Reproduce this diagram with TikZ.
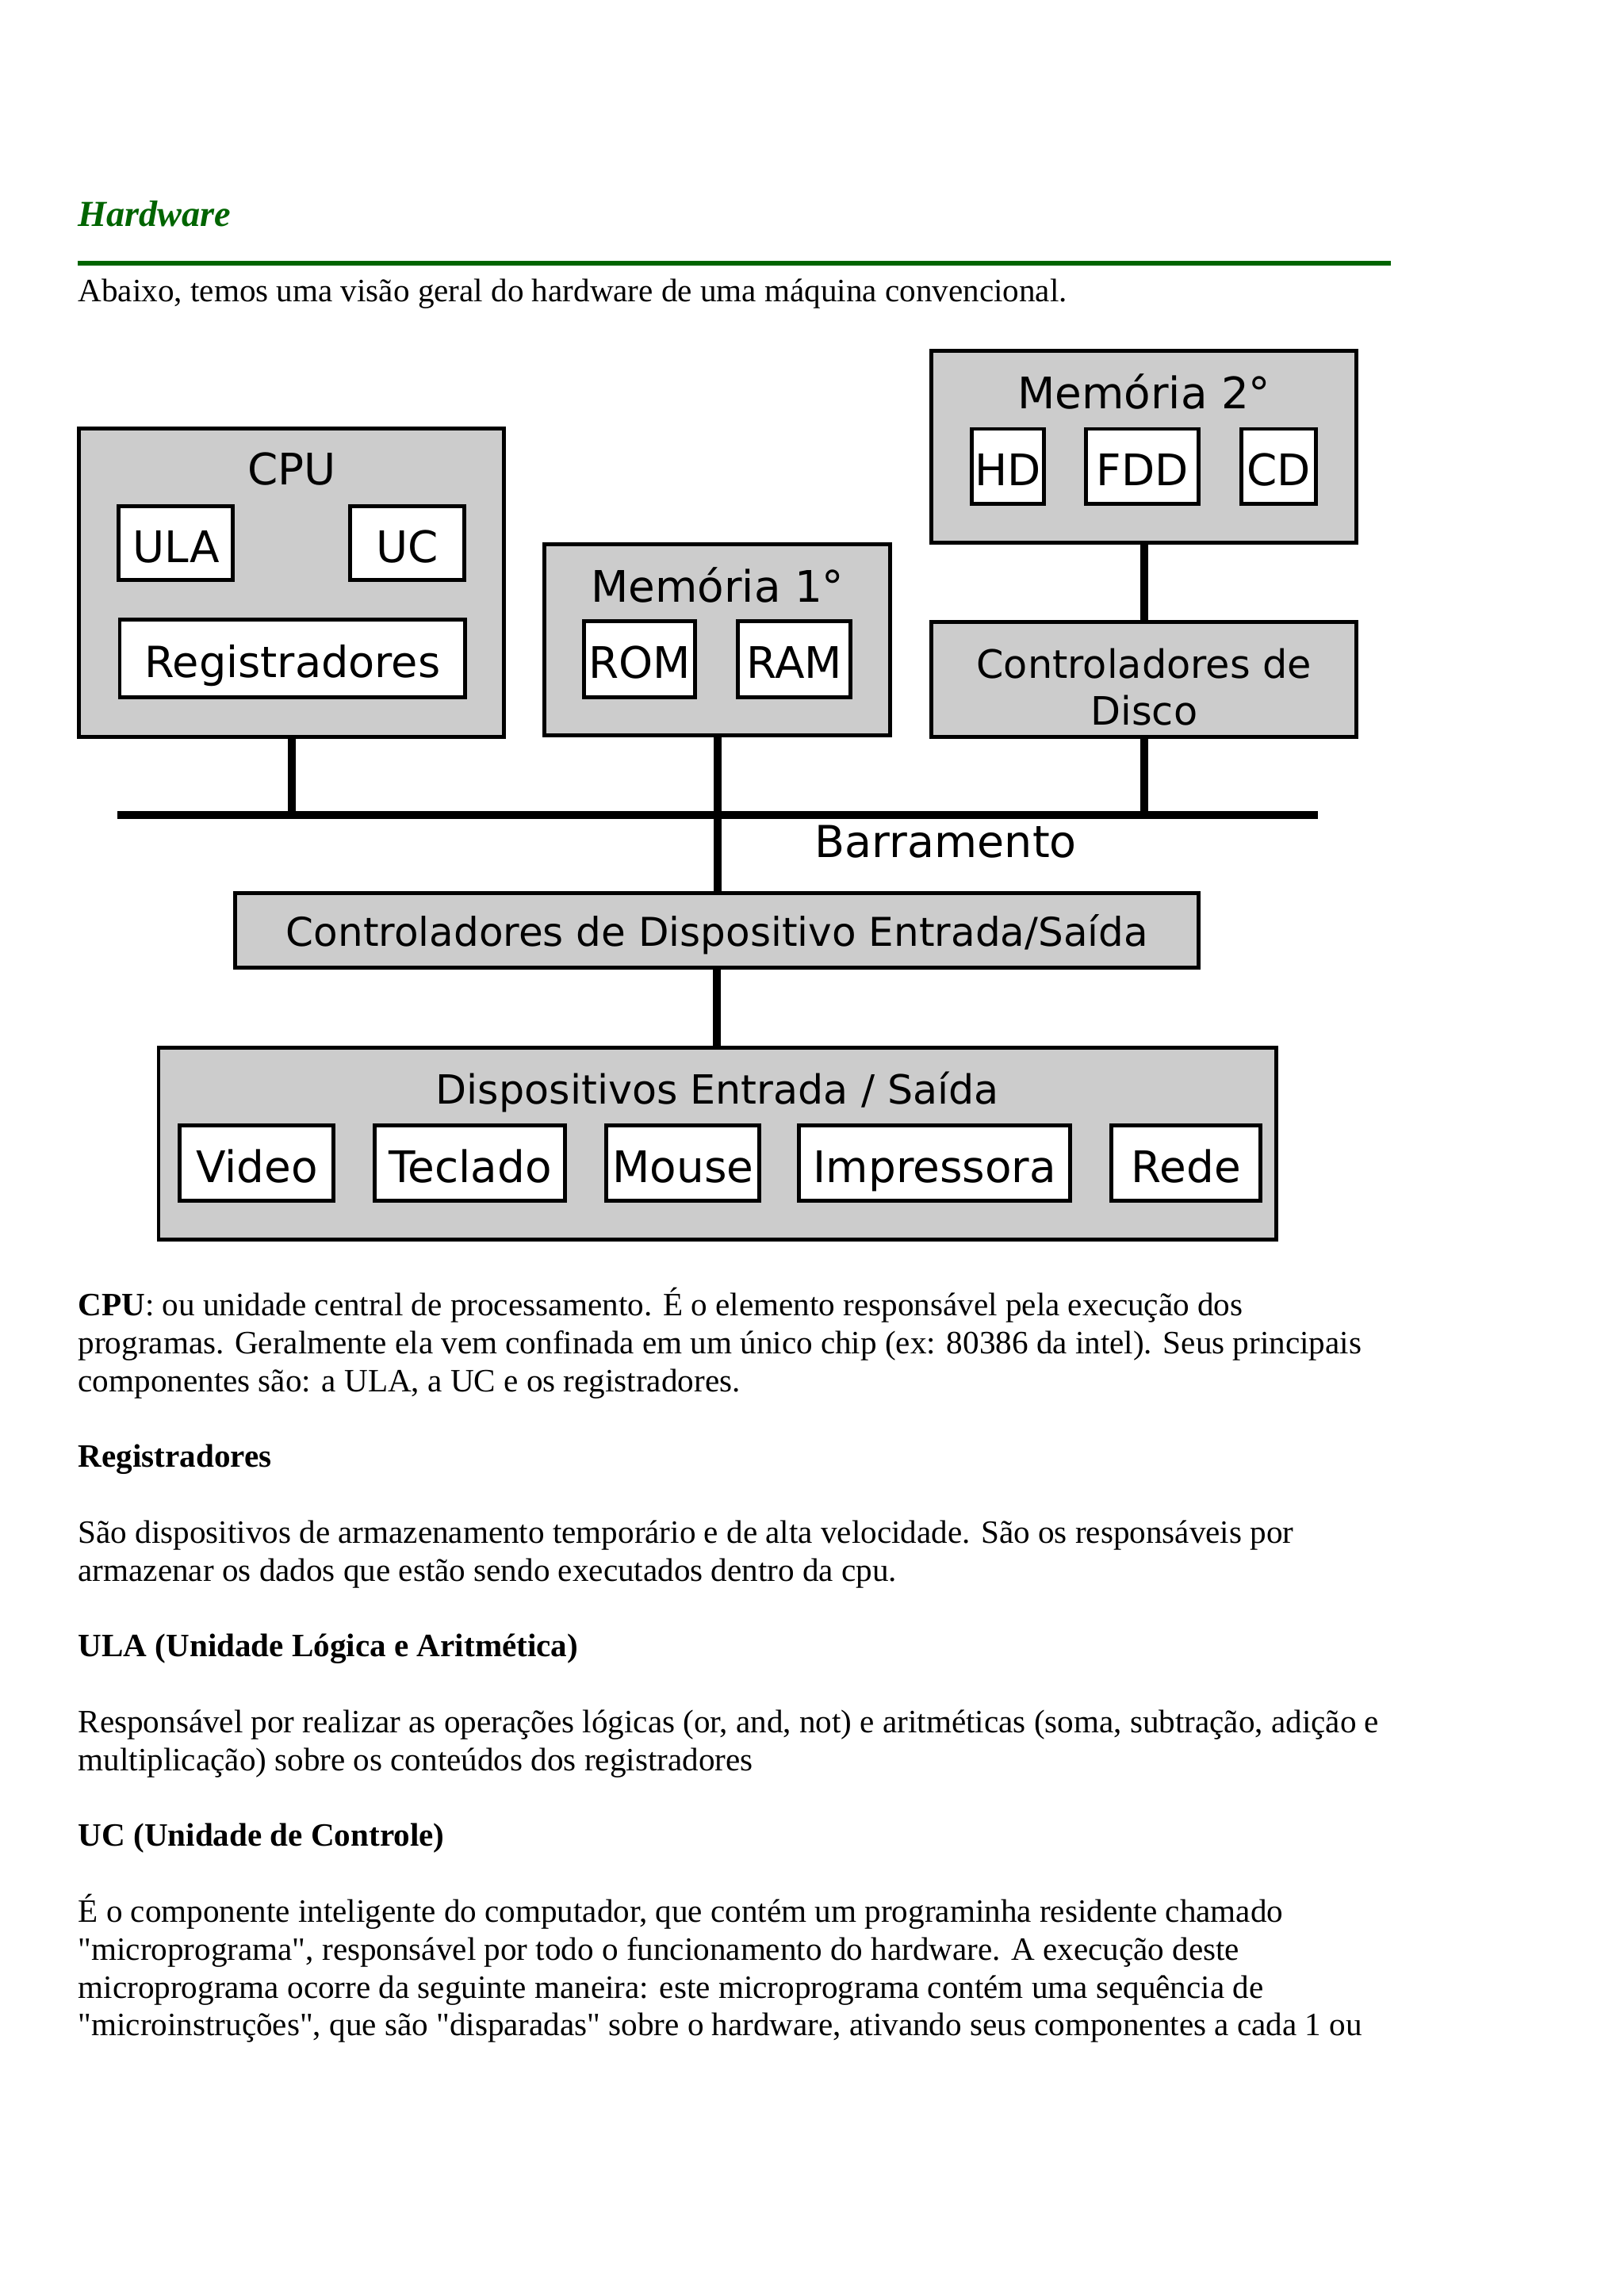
\documentclass[tikz,border=0pt]{standalone}
\usepackage{fontspec}
\setmainfont{Liberation Serif}[Ligatures=TeXOff]
\newfontfamily\diagfont{DejaVu Sans}
\usepackage{tikz}
\usepackage{xcolor}
\usetikzlibrary{positioning}
\definecolor{hdgreen}{RGB}{0,100,0}
\definecolor{boxgray}{RGB}{204,204,204}

\begin{document}
\begin{tikzpicture}[
  diag/.style={font=\diagfont\fontsize{#1}{19}\selectfont},
  diag/.default=16,
  bigbox/.style={draw, fill=boxgray, line width=1.45pt, inner sep=0pt},
  smallbox/.style={draw, fill=white, line width=1.45pt, inner sep=0pt, diag, text height=16pt, text depth=2pt},
  boxlabel/.style={diag=#1, anchor=base, inner sep=0pt},
  boxlabel/.default=16,
  wire/.style={line width=2.9pt},
  body/.style={anchor=base west, inner sep=0pt, font=\fontsize{12}{13.9}\selectfont}
]
\useasboundingbox (0,0) rectangle (21.0,-29.7);

% heading
\node[anchor=base west, inner sep=0pt, text=hdgreen, font=\fontsize{13.5}{16}\selectfont\bfseries\itshape] (title) at (1.005,-2.933) {Hardware};
\draw[hdgreen, line width=1.7pt] (1.005,-3.404) -- (17.985,-3.404);
\node[body] (intro) at (1.005,-3.907) {Abaixo, temos uma visão geral do hardware de uma máquina convencional.};

% CPU
\node[bigbox, minimum width=5.496cm, minimum height=3.989cm] (cpu) at (3.773,-7.542) {};
\node[boxlabel] (cpulbl) at (3.773,-6.275) {CPU};
\node[smallbox, minimum width=1.477cm, minimum height=0.954cm] (ula) at (2.276,-7.029) {ULA};
\node[smallbox, minimum width=1.477cm, minimum height=0.954cm] (uc) at (5.271,-7.029) {UC};
\node[smallbox, diag=15.8, minimum width=4.471cm, minimum height=1.005cm] (reg) at (3.784,-8.521) {Registradores};

% memoria primaria
\node[bigbox, minimum width=4.471cm, minimum height=2.471cm] (mem1) at (9.280,-8.280) {};
\node[boxlabel] (mem1lbl) at (9.280,-7.793) {Memória 1°};
\node[smallbox, minimum width=1.436cm, minimum height=0.984cm] (rom) at (8.275,-8.531) {ROM};
\node[smallbox, minimum width=1.456cm, minimum height=0.984cm] (ram) at (10.275,-8.531) {RAM};

% memoria secundaria
\node[bigbox, minimum width=5.496cm, minimum height=2.481cm] (mem2) at (14.797,-5.783) {};
\node[boxlabel] (mem2lbl) at (14.797,-5.291) {Memória 2°};
\foreach \nm/\cx/\bw/\txt in {hd/13.038/0.933/HD, fdd/14.776/1.456/FDD, cd/16.540/0.964/CD} {
  \node[smallbox, minimum width=\bw cm, minimum height=0.974cm] (\nm) at (\cx,-6.035) {\txt};
}
\node[bigbox, minimum width=5.496cm, minimum height=1.487cm] (disk) at (14.797,-8.793) {};
\node[boxlabel=14.4] (disklbla) at (14.797,-8.777) {Controladores de};
\node[boxlabel=14.4] (disklblb) at (14.797,-9.382) {Disco};

% barramento
\coordinate (busl) at (1.518,-10.541);
\coordinate (busr) at (17.042,-10.541);
\coordinate (bcpu) at (3.773,-10.541);
\coordinate (bdisk) at (14.797,-10.541);
\draw[wire] (busl) -- (busr);
\node[boxlabel=16.2] (buslbl) at (12.233,-11.095) {Barramento};

% entrada / saida
\node[bigbox, diag=14.6, text height=14pt, text depth=2.4pt, minimum width=12.459cm, minimum height=0.964cm] (ioctl) at (9.275,-12.038) {Controladores de Dispositivo Entrada/Saída};
\node[bigbox, minimum width=14.458cm, minimum height=2.481cm] (iodev) at (9.280,-14.797) {};
\node[boxlabel=14.8] (iodevlbl) at (9.280,-14.284) {Dispositivos Entrada / Saída};
\foreach \nm/\cx/\bw/\txt in {video/3.322/1.989/Video, teclado/6.081/2.461/Teclado, mouse/8.834/1.979/Mouse, impr/12.090/3.507/Impressora, rede/15.340/1.928/Rede} {
  \node[smallbox, minimum width=\bw cm, minimum height=0.974cm] (\nm) at (\cx,-15.048) {\txt};
}

% ligacoes
\draw[wire] (cpu.south) -- (bcpu);
\draw[wire] (mem1.south) -- (mem1.south |- ioctl.north);
\draw[wire] (disk.south) -- (bdisk);
\draw[wire] (mem2.south) -- (disk.north);
\draw[wire] (ioctl.south) -- (ioctl.south |- iodev.north);

% texto
\foreach \k/\txt in {
  0/{\textbf{CPU}: ou unidade central de processamento. É o elemento responsável pela execução dos},
  1/{programas. Geralmente ela vem confinada em um único chip (ex: 80386 da intel). Seus principais},
  2/{componentes são: a ULA, a UC e os registradores.},
  4/{\textbf{Registradores}},
  6/{São dispositivos de armazenamento temporário e de alta velocidade. São os responsáveis por},
  7/{armazenar os dados que estão sendo executados dentro da cpu.},
  9/{\textbf{ULA (Unidade Lógica e Aritmética)}},
  11/{Responsável por realizar as operações lógicas (or, and, not) e aritméticas (soma, subtração, adição e},
  12/{multiplicação) sobre os conteúdos dos registradores},
  14/{\textbf{UC (Unidade de Controle)}},
  16/{É o componente inteligente do computador, que contém um programinha residente chamado},
  17/{"microprograma", responsável por todo o funcionamento do hardware. A execução deste},
  18/{microprograma ocorre da seguinte maneira: este microprograma contém uma sequência de},
  19/{"microinstruções", que são "disparadas" sobre o hardware, ativando seus componentes a cada 1 ou}} {
  \node[body] (line\k) at (1.005,{-17.022-0.4901*\k}) {\txt};
}
\end{tikzpicture}
\end{document}
